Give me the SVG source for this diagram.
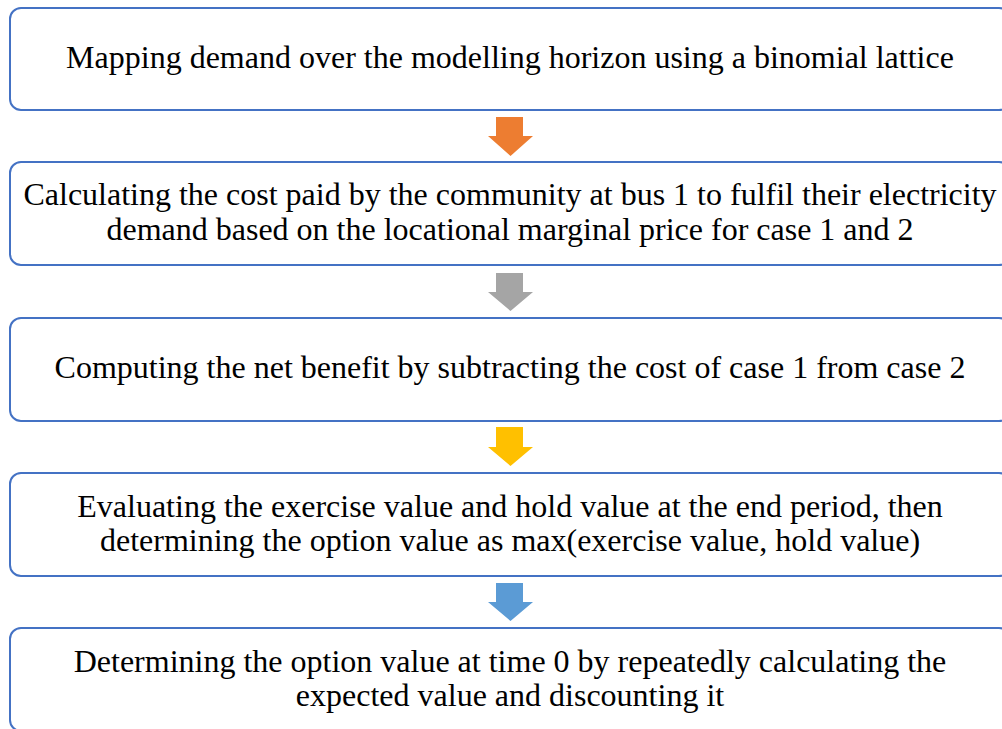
<svg xmlns="http://www.w3.org/2000/svg" width="1002" height="729" viewBox="0 0 1002 729">
<style>
.box{fill:#ffffff;stroke:#4472C4;stroke-width:2}
.t{font-family:"Liberation Serif","Times New Roman",serif;font-size:32px;fill:#000;text-anchor:middle}
</style>
<rect width="1002" height="729" fill="#ffffff"/>
<g id="connectors">
<path d="M496,117 H523 V136 H533 L510.5,156 L488,136 H496 Z" fill="#ED7D31"/>
<path d="M496,273 H523 V292 H533 L510.5,311 L488,292 H496 Z" fill="#A5A5A5"/>
<path d="M496,427 H523 V447 H533 L510.5,466 L488,447 H496 Z" fill="#FFC000"/>
<path d="M496,583 H523 V602 H533 L510.5,621 L488,602 H496 Z" fill="#5B9BD5"/>
</g>
<g id="node1">
<rect class="box" x="10" y="8" width="1000" height="102" rx="11"/>
<text class="t" x="510" y="68">Mapping demand over the modelling horizon using a binomial lattice</text>
</g>
<g id="node2">
<rect class="box" x="10" y="162" width="1000" height="103" rx="11"/>
<text class="t" x="510" y="205">Calculating the cost paid by the community at bus 1 to fulfil their electricity</text>
<text class="t" x="510" y="240">demand based on the locational marginal price for case 1 and 2</text>
</g>
<g id="node3">
<rect class="box" x="10" y="318" width="1000" height="103" rx="11"/>
<text class="t" x="510" y="378">Computing the net benefit by subtracting the cost of case 1 from case 2</text>
</g>
<g id="node4">
<rect class="box" x="10" y="473" width="1000" height="103" rx="11"/>
<text class="t" x="510" y="517">Evaluating the exercise value and hold value at the end period, then</text>
<text class="t" x="510" y="551">determining the option value as max(exercise value, hold value)</text>
</g>
<g id="node5">
<rect class="box" x="10" y="628" width="1000" height="103" rx="11"/>
<text class="t" x="510" y="672">Determining the option value at time 0 by repeatedly calculating the</text>
<text class="t" x="510" y="706">expected value and discounting it</text>
</g>
</svg>
